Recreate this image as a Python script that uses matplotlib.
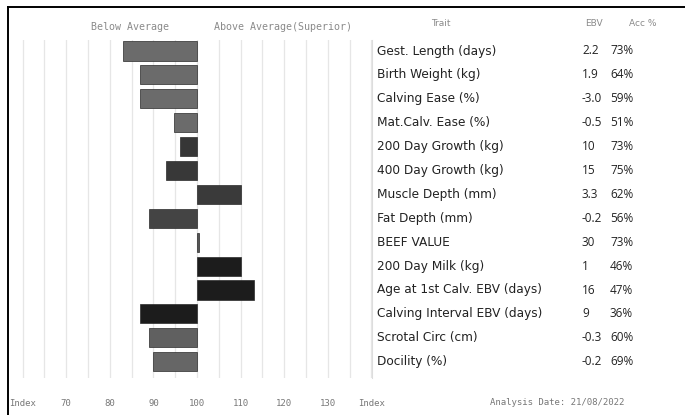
import matplotlib
matplotlib.use("Agg")
import matplotlib.pyplot as plt
from matplotlib.lines import Line2D

# ---- data ----
traits = ["Gest. Length (days)", "Birth Weight (kg)", "Calving Ease (%)",
          "Mat.Calv. Ease (%)", "200 Day Growth (kg)", "400 Day Growth (kg)",
          "Muscle Depth (mm)", "Fat Depth (mm)", "BEEF VALUE",
          "200 Day Milk (kg)", "Age at 1st Calv. EBV (days)",
          "Calving Interval EBV (days)", "Scrotal Circ (cm)", "Docility (%)"]
ebv = ["2.2", "1.9", "-3.0", "-0.5", "10", "15", "3.3", "-0.2", "30",
       "1", "16", "9", "-0.3", "-0.2"]
acc = ["73%", "64%", "59%", "51%", "73%", "75%", "62%", "56%", "73%",
       "46%", "47%", "36%", "60%", "69%"]
index_vals = [83, 87, 87, 94.7, 96, 93, 110, 89, 100.5, 110, 113, 87, 89, 90]
tick_vals = [60, 70, 80, 90, 100, 110, 120, 130, 140]
tick_labels = ["Index", "70", "80", "90", "100", "110", "120", "130", "Index"]

bar_colors = ["#6b6b6b"] * 4 + ["#363636", "#383838", "#3a3a3a", "#444444",
              "#555555"] + ["#1c1c1c"] * 3 + ["#606060", "#666666"]

W, H = 685, 415
fig = plt.figure(figsize=(W / 100, H / 100), dpi=100)
fig.patch.set_facecolor("white")


def box(x0, y0, x1, y1):
    # pixel box (top-left origin) -> figure fraction rect
    return [x0 / W, 1 - y1 / H, (x1 - x0) / W, (y1 - y0) / H]


px_per_unit = 4.36
x_zero = 197
ylim = ((378 - 51) / 23.9, (40 - 51) / 23.9)

ax = fig.add_axes(box(8, 40, 380, 378))
ax.set_xlim(100 - (x_zero - 8) / px_per_unit, 100 + (380 - x_zero) / px_per_unit)
ax.set_ylim(*ylim)
rows = list(range(len(traits)))
ax.barh(rows, [v - 100 for v in index_vals], left=100, height=0.8,
        color=bar_colors, edgecolor="#2a2a2a", linewidth=0.5, zorder=3)
ax.set_xticks(tick_vals)
ax.set_xticks(range(65, 140, 10), minor=True)
ax.grid(True, which="both", axis="x", color="#e6e6e6", linewidth=0.9, zorder=0)
ax.set_xticklabels(tick_labels, fontsize=6.5, color="#777777",
                   family="DejaVu Sans Mono")
ax.tick_params(axis="x", which="both", length=0, pad=15)
ax.set_yticks([])
for s in ax.spines.values():
    s.set_visible(False)

ax.text(100 - (x_zero - 130) / px_per_unit, -1.0, "Below Average",
        ha="center", va="center", fontsize=7.2, color="#8a8a8a",
        family="DejaVu Sans Mono", clip_on=False)
ax.text(100 + (283 - x_zero) / px_per_unit, -1.0, "Above Average(Superior)",
        ha="center", va="center", fontsize=7.2, color="#8a8a8a",
        family="DejaVu Sans Mono", clip_on=False)

# ---- table ----
tab = fig.add_axes(box(372, 40, 685, 378))
tab.set_xlim(0, 313)
tab.set_ylim(*ylim)
tab.set_xticks([])
tab.set_yticks([])
for k, s in tab.spines.items():
    s.set_visible(k == "left")
tab.spines["left"].set_color("#dddddd")
tab.patch.set_alpha(0)

hdr_y = (24 - 51) / 23.9
tab.text(69, hdr_y, "Trait", ha="center", va="center", fontsize=6.5,
         color="#8a8a8a", clip_on=False)
tab.text(222, hdr_y, "EBV", ha="center", va="center", fontsize=6.5,
         color="#8a8a8a", clip_on=False)
tab.text(271, hdr_y, "Acc %", ha="center", va="center", fontsize=6.5,
         color="#8a8a8a", clip_on=False)
for i, (t, e, a) in enumerate(zip(traits, ebv, acc)):
    tab.text(5, i, t, ha="left", va="center", fontsize=8.7, color="#222222",
             family="DejaVu Sans")
    tab.text(210, i, e, ha="left", va="center", fontsize=8.5, color="#222222",
             family="Open Sans")
    tab.text(238, i, a, ha="left", va="center", fontsize=8.5, color="#222222",
             family="Open Sans")

fig.text(557 / W, 1 - 402 / H, "Analysis Date: 21/08/2022", ha="center",
         va="center", fontsize=6.5, color="#777777", family="DejaVu Sans Mono")

# frame lines (top and left)
fig.add_artist(Line2D([8 / W, 1], [1 - 7 / H, 1 - 7 / H], color="black",
                      linewidth=1.4))
fig.add_artist(Line2D([8 / W, 8 / W], [0, 1 - 7 / H], color="black",
                      linewidth=1.4))

fig.savefig("out.png", dpi=100)
